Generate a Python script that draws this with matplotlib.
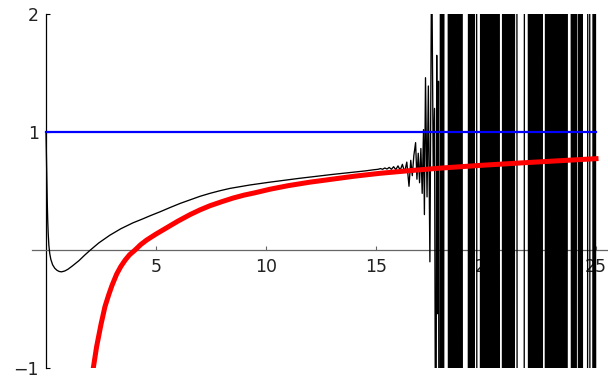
import matplotlib
matplotlib.use("Agg")
import matplotlib.pyplot as plt

# smooth part of the black curve
black_x_smooth = [0.0, 0.02, 0.04, 0.06, 0.08, 0.1, 0.13, 0.17, 0.22, 0.3, 0.4, 0.5, 0.6,
                  0.71, 0.85, 1.0, 1.2, 1.5, 1.75, 2.0, 2.4, 2.9, 3.4, 3.95, 4.35, 4.73,
                  5.2, 5.64, 6.1, 6.55, 7.0, 7.45, 7.9, 8.36, 9.27, 10.18, 11.5, 13.0, 14.5]
black_y_smooth = [1.0, 0.78, 0.55, 0.38, 0.24, 0.14, 0.04, -0.03, -0.08, -0.125, -0.155, -0.172, -0.182,
                  -0.185, -0.178, -0.163, -0.135, -0.09, -0.045, -0.003, 0.06, 0.125, 0.18, 0.23, 0.26, 0.29,
                  0.325, 0.36, 0.395, 0.425, 0.455, 0.48, 0.502, 0.522, 0.551, 0.575, 0.607, 0.64, 0.67]

# growing ripples before it breaks down
black_x_ripple = [14.7, 14.9, 15.1, 15.2, 15.3, 15.4, 15.5, 15.6, 15.7, 15.8, 15.9, 16.0,
                  16.1, 16.2, 16.3, 16.4, 16.5, 16.58, 16.65, 16.72, 16.8, 16.86, 16.92,
                  16.98, 17.04, 17.1, 17.16, 17.2, 17.25, 17.32, 17.38, 17.45, 17.53,
                  17.6, 17.66, 17.72, 17.76, 17.8, 17.84, 17.9]
black_y_ripple = [0.675, 0.68, 0.684, 0.69, 0.684, 0.695, 0.686, 0.70, 0.684, 0.706, 0.681, 0.713,
                  0.676, 0.726, 0.66, 0.745, 0.54, 0.76, 0.63, 0.80, 0.91, 0.60, 0.82,
                  0.57, 0.86, 0.48, 1.02, 0.30, 1.46, 0.45, 1.39, -0.10, 2.6,
                  0.70, 1.2, -3.0, 1.65, -0.54, 1.43, -9]

# numerical breakdown: values far off the plot range (+9 / -9)
black_x_wild = [17.94, 17.98, 18.02, 18.06, 18.10,
                18.27, 18.31, 18.36, 18.40, 18.45, 18.49, 18.54, 18.58, 18.63, 18.67,
                18.72, 18.76, 18.81, 18.85, 18.90, 18.94,
                19.18, 19.22, 19.27, 19.31, 19.36, 19.40, 19.45, 19.49,
                19.56, 19.60,
                19.73, 19.77, 19.82, 19.86, 19.91, 19.95, 20.00, 20.04, 20.09, 20.13,
                20.18, 20.22, 20.27, 20.31, 20.36, 20.40, 20.45, 20.49, 20.54, 20.58, 20.63,
                20.73, 20.77, 20.82, 20.86, 20.91, 20.95, 21.00, 21.04, 21.09, 21.13,
                21.18, 21.22, 21.27, 21.31,
                21.39, 21.43, 21.72, 21.76,
                21.91, 21.95, 22.00, 22.04, 22.09, 22.13, 22.18, 22.22, 22.27, 22.31,
                22.36, 22.40, 22.45, 22.49, 22.54, 22.58,
                22.68, 22.72, 22.77, 22.81, 22.86, 22.90, 22.95, 22.99, 23.04, 23.08,
                23.13, 23.17, 23.22, 23.26, 23.31, 23.35, 23.40, 23.44, 23.49, 23.53,
                23.58, 23.62, 23.67, 23.71,
                23.86, 23.90, 23.95, 23.99, 24.04, 24.08, 24.13,
                24.18, 24.22, 24.27, 24.31, 24.36, 24.40,
                24.60, 24.64, 24.70, 24.74,
                24.84, 24.88, 24.92, 24.96, 25.0]
black_y_wild = [9, -9, 9, -9, 9,
                9, -9, 9, -9, 9, -9, 9, -9, 9, -9,
                9, -9, 9, -9, 9, -9,
                -9, 9, -9, 9, -9, 9, -9, 9,
                9, -9,
                -9, 9, -9, 9, -9, 9, -9, 9, -9, 9,
                -9, 9, -9, 9, -9, 9, -9, 9, -9, 9, -9,
                -9, 9, -9, 9, -9, 9, -9, 9, -9, 9,
                -9, 9, -9, 9,
                9, -9, -9, 9,
                9, -9, 9, -9, 9, -9, 9, -9, 9, -9,
                9, -9, 9, -9, 9, -9,
                -9, 9, -9, 9, -9, 9, -9, 9, -9, 9,
                -9, 9, -9, 9, -9, 9, -9, 9, -9, 9,
                -9, 9, -9, 9,
                9, -9, 9, -9, 9, -9, 9,
                9, -9, 9, -9, 9, -9,
                -9, 9, 9, -9,
                -9, 9, -9, 9, -9]

# red approximation curve
red_x = [2.15, 2.3, 2.5, 2.68, 2.85, 3.0, 3.21, 3.4, 3.6, 3.8, 4.05, 4.3, 4.58, 5.0,
         5.5, 6.0, 6.55, 7.0, 7.45, 8.0, 8.5, 9.0, 9.5, 10.18, 11.0, 12.0, 13.0, 14.0,
         15.18, 16.5, 18.0, 19.73, 21.5, 23.0, 25.0]
red_y = [-1.0, -0.82, -0.63, -0.48, -0.38, -0.3, -0.205, -0.14, -0.085, -0.04, 0.0, 0.045, 0.085, 0.135,
         0.19, 0.245, 0.3, 0.34, 0.375, 0.41, 0.44, 0.465, 0.485, 0.515, 0.545, 0.575, 0.60, 0.625,
         0.65, 0.672, 0.695, 0.717, 0.737, 0.753, 0.774]

# limit line
blue_x = [0.0, 25.0]
blue_y = [1.0, 1.0]

xticks = [5, 10, 15, 20, 25]
yticks = [-1, 1, 2]

fig = plt.figure(figsize=(6.08, 3.80), dpi=100)
ax = fig.add_axes([32 / 608, 12 / 380, 576 / 608, 354 / 380])

black_x = black_x_smooth + black_x_ripple + black_x_wild
black_y = black_y_smooth + black_y_ripple + black_y_wild
ax.plot(black_x, black_y, color="black", lw=0.95, zorder=3)
ax.plot(blue_x, blue_y, color="#0000ff", lw=1.6, zorder=4)
ax.plot(red_x, red_y, color="#ff0000", lw=3.6, zorder=5)

ax.set_xlim(-14 / 22, 562 / 22)
ax.set_ylim(-1, 2)

for side in ["top", "right"]:
    ax.spines[side].set_visible(False)
ax.spines["left"].set_position(("data", 0))
ax.spines["bottom"].set_position(("data", 0))
ax.spines["left"].set_color("black")
ax.spines["bottom"].set_color("#666666")
ax.spines["left"].set_linewidth(0.9)
ax.spines["bottom"].set_linewidth(0.9)

ax.set_xticks(xticks)
ax.set_yticks(yticks)
ax.set_xticklabels([str(t) for t in xticks])
ax.set_yticklabels(["\u22121", "1", "2"])
ax.tick_params(axis="x", direction="in", length=3, width=0.8, color="#666666",
               labelsize=12.5, pad=6, labelcolor="#222222")
ax.tick_params(axis="y", direction="in", length=3, width=0.8, color="black",
               labelsize=12.5, pad=5, labelcolor="#222222")

fig.savefig("out.png", dpi=100)
